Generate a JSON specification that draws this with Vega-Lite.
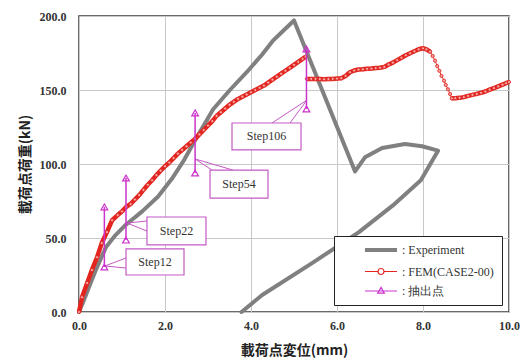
{
  "$schema": "https://vega.github.io/schema/vega-lite/v6.json",
  "width": 430,
  "height": 296,
  "autosize": {"type": "none"},
  "padding": {"left": 79, "top": 16, "right": 15, "bottom": 49},
  "config": {
    "view": {"stroke": "#3a3a3a", "strokeWidth": 1.5},
    "axis": {
      "gridColor": "#c8c8c8", "gridWidth": 1, "domain": false, "ticks": false, "labelFlush": false,
      "labelFont": "Liberation Serif", "labelFontSize": 12, "labelFontWeight": "bold", "labelColor": "#333333",
      "titleFont": "Noto Sans CJK JP", "titleFontSize": 14, "titleFontWeight": "bold", "titleColor": "#222222"
    }
  },
  "datasets": {
    "exp": [
      {"i": 0, "x": 0, "y": 0}, {"i": 1, "x": 0.1, "y": 7}, {"i": 2, "x": 0.25, "y": 18}, {"i": 3, "x": 0.4, "y": 29},
      {"i": 4, "x": 0.63, "y": 44}, {"i": 5, "x": 0.85, "y": 52}, {"i": 6, "x": 1.09, "y": 59}, {"i": 7, "x": 1.47, "y": 68},
      {"i": 8, "x": 1.84, "y": 78}, {"i": 9, "x": 2.16, "y": 90}, {"i": 10, "x": 2.45, "y": 103}, {"i": 11, "x": 2.7, "y": 116},
      {"i": 12, "x": 3.12, "y": 137}, {"i": 13, "x": 3.51, "y": 150}, {"i": 14, "x": 3.9, "y": 162}, {"i": 15, "x": 4.26, "y": 174},
      {"i": 16, "x": 4.5, "y": 183}, {"i": 17, "x": 4.75, "y": 190}, {"i": 18, "x": 5.0, "y": 197}, {"i": 19, "x": 6.42, "y": 95},
      {"i": 20, "x": 6.65, "y": 104.5}, {"i": 21, "x": 7.05, "y": 110.8}, {"i": 22, "x": 7.58, "y": 113.5}, {"i": 23, "x": 7.98, "y": 112},
      {"i": 24, "x": 8.35, "y": 109}, {"i": 25, "x": 7.95, "y": 89}, {"i": 26, "x": 7.3, "y": 72}, {"i": 27, "x": 6.51, "y": 54},
      {"i": 28, "x": 5.42, "y": 33}, {"i": 29, "x": 4.26, "y": 11.5}, {"i": 30, "x": 3.78, "y": 0}
    ],
    "fem": [
      {"part": "a", "x": 0, "y": 0}, {"part": "a", "x": 0.07, "y": 10}, {"part": "a", "x": 0.19, "y": 19.6}, {"part": "a", "x": 0.3, "y": 28.4},
      {"part": "a", "x": 0.42, "y": 37}, {"part": "a", "x": 0.53, "y": 46.6}, {"part": "a", "x": 0.65, "y": 54}, {"part": "a", "x": 0.77, "y": 62},
      {"part": "a", "x": 0.9, "y": 65.5}, {"part": "a", "x": 1.0, "y": 68}, {"part": "a", "x": 1.1, "y": 71}, {"part": "a", "x": 1.2, "y": 73},
      {"part": "a", "x": 1.3, "y": 76}, {"part": "a", "x": 1.4, "y": 79}, {"part": "a", "x": 1.5, "y": 82.5}, {"part": "a", "x": 1.6, "y": 86},
      {"part": "a", "x": 1.7, "y": 89}, {"part": "a", "x": 1.8, "y": 92.5}, {"part": "a", "x": 1.9, "y": 95.5}, {"part": "a", "x": 2.0, "y": 98.5},
      {"part": "a", "x": 2.1, "y": 101}, {"part": "a", "x": 2.2, "y": 104}, {"part": "a", "x": 2.3, "y": 107}, {"part": "a", "x": 2.4, "y": 109.5},
      {"part": "a", "x": 2.5, "y": 112}, {"part": "a", "x": 2.6, "y": 114.5}, {"part": "a", "x": 2.7, "y": 117}, {"part": "a", "x": 2.8, "y": 120},
      {"part": "a", "x": 2.9, "y": 123}, {"part": "a", "x": 3.0, "y": 126}, {"part": "a", "x": 3.1, "y": 129}, {"part": "a", "x": 3.2, "y": 132.5},
      {"part": "a", "x": 3.3, "y": 135}, {"part": "a", "x": 3.4, "y": 137.5}, {"part": "a", "x": 3.5, "y": 140}, {"part": "a", "x": 3.6, "y": 142},
      {"part": "a", "x": 3.7, "y": 144}, {"part": "a", "x": 3.8, "y": 145.5}, {"part": "a", "x": 3.9, "y": 147}, {"part": "a", "x": 4.0, "y": 148.5},
      {"part": "a", "x": 4.1, "y": 150}, {"part": "a", "x": 4.2, "y": 151.5}, {"part": "a", "x": 4.3, "y": 153}, {"part": "a", "x": 4.4, "y": 155},
      {"part": "a", "x": 4.5, "y": 157}, {"part": "a", "x": 4.6, "y": 159}, {"part": "a", "x": 4.7, "y": 161}, {"part": "a", "x": 4.8, "y": 163},
      {"part": "a", "x": 4.9, "y": 165}, {"part": "a", "x": 5.0, "y": 167}, {"part": "a", "x": 5.1, "y": 169}, {"part": "a", "x": 5.2, "y": 171},
      {"part": "a", "x": 5.27, "y": 172.5},
      {"part": "b", "x": 5.3, "y": 157.5}, {"part": "b", "x": 5.4, "y": 157.5}, {"part": "b", "x": 5.5, "y": 157.5}, {"part": "b", "x": 5.6, "y": 157.4},
      {"part": "b", "x": 5.7, "y": 157.3}, {"part": "b", "x": 5.8, "y": 157.4}, {"part": "b", "x": 5.9, "y": 157.5}, {"part": "b", "x": 6.0, "y": 157.7},
      {"part": "b", "x": 6.1, "y": 158}, {"part": "b", "x": 6.2, "y": 159.5}, {"part": "b", "x": 6.3, "y": 162}, {"part": "b", "x": 6.4, "y": 163.2},
      {"part": "b", "x": 6.5, "y": 163.8}, {"part": "b", "x": 6.6, "y": 164}, {"part": "b", "x": 6.7, "y": 164.3}, {"part": "b", "x": 6.8, "y": 164.5},
      {"part": "b", "x": 6.9, "y": 164.8}, {"part": "b", "x": 7.0, "y": 165}, {"part": "b", "x": 7.1, "y": 165.6}, {"part": "b", "x": 7.2, "y": 167.2},
      {"part": "b", "x": 7.3, "y": 168.5}, {"part": "b", "x": 7.4, "y": 170.2}, {"part": "b", "x": 7.5, "y": 171.8}, {"part": "b", "x": 7.6, "y": 173.5},
      {"part": "b", "x": 7.7, "y": 174.8}, {"part": "b", "x": 7.8, "y": 176.2}, {"part": "b", "x": 7.9, "y": 177.5}, {"part": "b", "x": 8.0, "y": 178.2},
      {"part": "b", "x": 8.08, "y": 177.5}, {"part": "b", "x": 8.163, "y": 175.9},
      {"part": "drop", "x": 8.163, "y": 175.9}, {"part": "drop", "x": 8.225, "y": 173}, {"part": "drop", "x": 8.28, "y": 169.8},
      {"part": "drop", "x": 8.33, "y": 166.2}, {"part": "drop", "x": 8.38, "y": 163}, {"part": "drop", "x": 8.43, "y": 159.5},
      {"part": "drop", "x": 8.49, "y": 156.3}, {"part": "drop", "x": 8.53, "y": 153.4}, {"part": "drop", "x": 8.58, "y": 150.5},
      {"part": "drop", "x": 8.63, "y": 147.3}, {"part": "drop", "x": 8.67, "y": 144.4},
      {"part": "d", "x": 8.67, "y": 144.4}, {"part": "d", "x": 8.75, "y": 144.5}, {"part": "d", "x": 8.85, "y": 144.7}, {"part": "d", "x": 8.95, "y": 145.2},
      {"part": "d", "x": 9.05, "y": 146}, {"part": "d", "x": 9.15, "y": 146.7}, {"part": "d", "x": 9.25, "y": 147.4}, {"part": "d", "x": 9.35, "y": 148.1},
      {"part": "d", "x": 9.45, "y": 149}, {"part": "d", "x": 9.55, "y": 150.2}, {"part": "d", "x": 9.65, "y": 151.3}, {"part": "d", "x": 9.75, "y": 152.4},
      {"part": "d", "x": 9.85, "y": 153.6}, {"part": "d", "x": 9.93, "y": 154.6}, {"part": "d", "x": 10, "y": 155.4}
    ],
    "steps": [
      {"step": "Step12", "x": 0.59, "y": 30.4}, {"step": "Step12", "x": 0.59, "y": 71},
      {"step": "Step22", "x": 1.093, "y": 48.6}, {"step": "Step22", "x": 1.093, "y": 90.5},
      {"step": "Step54", "x": 2.7, "y": 93.9}, {"step": "Step54", "x": 2.7, "y": 134.5},
      {"step": "Step106", "x": 5.29, "y": 137.2}, {"step": "Step106", "x": 5.29, "y": 177.7}
    ],
    "callouts": [
      {"step": "Step12", "bx1": 1.093, "bx2": 2.442, "by1": 25.0, "by2": 42.6, "tx": 1.767, "ty": 33.8},
      {"step": "Step22", "bx1": 1.581, "bx2": 2.953, "by1": 45.3, "by2": 64.2, "tx": 2.267, "ty": 54.7},
      {"step": "Step54", "bx1": 3.047, "bx2": 4.395, "by1": 77.0, "by2": 95.9, "tx": 3.721, "ty": 86.5},
      {"step": "Step106", "bx1": 3.558, "bx2": 5.163, "by1": 109.5, "by2": 127.7, "tx": 4.36, "ty": 118.6}
    ],
    "wedges": [
      {"x": 0.605, "y": 31.1, "x2": 1.093, "y2": 36.5}, {"x": 0.605, "y": 31.1, "x2": 1.093, "y2": 29.7},
      {"x": 1.116, "y": 60.1, "x2": 1.581, "y2": 61.5}, {"x": 1.116, "y": 60.1, "x2": 1.581, "y2": 54.7},
      {"x": 2.698, "y": 103.4, "x2": 3.093, "y2": 95.9}, {"x": 2.698, "y": 103.4, "x2": 3.581, "y2": 95.9},
      {"x": 5.302, "y": 143.2, "x2": 4.488, "y2": 127.7}, {"x": 5.302, "y": 143.2, "x2": 4.907, "y2": 127.7}
    ]
  },
  "layer": [
    {
      "data": {"name": "exp"},
      "mark": {"type": "line", "strokeWidth": 4, "strokeJoin": "round", "strokeCap": "round"},
      "encoding": {
        "x": {"field": "x", "type": "quantitative", "scale": {"domain": [0, 10], "nice": false},
          "axis": {"values": [0, 2, 4, 6, 8, 10], "format": ".1f", "title": "載荷点変位(mm)", "labelPadding": 8, "titlePadding": 12}},
        "y": {"field": "y", "type": "quantitative", "scale": {"domain": [0, 200], "nice": false},
          "axis": {"values": [0, 50, 100, 150, 200], "format": ".1f", "title": "載荷点荷重(kN)", "labelPadding": 13, "titlePadding": 7}},
        "order": {"field": "i", "type": "quantitative"},
        "color": {"datum": "Experiment", "type": "nominal",
          "scale": {"domain": ["Experiment", "FEM(CASE2-00)", "抽出点"], "range": ["#808080", "#e3241f", "#cc33cc"]},
          "legend": {
            "title": null, "orient": "bottom-right", "offset": 7,
            "strokeColor": "#222222", "fillColor": "white", "padding": 8,
            "symbolSize": 144, "symbolOffset": 33, "labelOffset": 15, "rowPadding": 7.5,
            "labelFont": "Liberation Serif", "labelFontSize": 12, "labelColor": "#333333",
            "labelExpr": "': ' + datum.label",
            "encode": {"symbols": {"update": {
              "shape": {"signal": "datum.value === 'Experiment' ? 'M-2.67,0H2.67' : datum.value === 'FEM(CASE2-00)' ? 'M-2.67,0H-0.5M0.5,0H2.67M-0.5,0A0.5,0.5,0,1,0,0.5,0A0.5,0.5,0,1,0,-0.5,0' : 'M-2.67,0H2.67M0,-0.6L0.55,0.35L-0.55,0.35Z'"},
              "strokeWidth": {"signal": "datum.value === 'Experiment' ? 4 : 1.2"},
              "stroke": {"signal": "scale('color', datum.value)"},
              "fill": {"value": "white"},
              "opacity": {"value": 1}
            }}}
          }}
      }
    },
    {
      "data": {"name": "fem"},
      "transform": [{"filter": "datum.part !== 'drop'"}],
      "mark": {"type": "line", "strokeWidth": 4.5, "strokeJoin": "round"},
      "encoding": {
        "x": {"field": "x", "type": "quantitative"},
        "y": {"field": "y", "type": "quantitative"},
        "detail": {"field": "part"},
        "color": {"datum": "FEM(CASE2-00)", "type": "nominal"}
      }
    },
    {
      "data": {"name": "fem"},
      "transform": [{"filter": "datum.part === 'drop'"}],
      "mark": {"type": "line", "strokeWidth": 1},
      "encoding": {
        "x": {"field": "x", "type": "quantitative"},
        "y": {"field": "y", "type": "quantitative"},
        "color": {"datum": "FEM(CASE2-00)", "type": "nominal"}
      }
    },
    {
      "data": {"name": "fem"},
      "mark": {"type": "point", "shape": "circle", "size": 10, "filled": true, "fill": "#f7a8a8", "stroke": "#dd2a22", "strokeWidth": 0.9, "opacity": 1},
      "encoding": {
        "x": {"field": "x", "type": "quantitative"},
        "y": {"field": "y", "type": "quantitative"}
      }
    },
    {
      "data": {"name": "wedges"},
      "mark": {"type": "rule", "color": "#c45ac4", "strokeWidth": 1},
      "encoding": {
        "x": {"field": "x", "type": "quantitative"},
        "y": {"field": "y", "type": "quantitative"},
        "x2": {"field": "x2"},
        "y2": {"field": "y2"}
      }
    },
    {
      "data": {"name": "steps"},
      "mark": {"type": "line", "strokeWidth": 1.5, "point": {"shape": "triangle-up", "filled": false, "size": 45, "strokeWidth": 1.2}},
      "encoding": {
        "x": {"field": "x", "type": "quantitative"},
        "y": {"field": "y", "type": "quantitative"},
        "detail": {"field": "step"},
        "color": {"datum": "抽出点", "type": "nominal"}
      }
    },
    {
      "data": {"name": "callouts"},
      "mark": {"type": "rect", "fill": "white", "stroke": "#c45ac4", "strokeWidth": 1.2},
      "encoding": {
        "x": {"field": "bx1", "type": "quantitative"},
        "x2": {"field": "bx2"},
        "y": {"field": "by1", "type": "quantitative"},
        "y2": {"field": "by2"}
      }
    },
    {
      "data": {"name": "callouts"},
      "mark": {"type": "text", "font": "Liberation Serif", "fontSize": 12, "color": "#333333", "align": "center", "baseline": "middle"},
      "encoding": {
        "x": {"field": "tx", "type": "quantitative"},
        "y": {"field": "ty", "type": "quantitative"},
        "text": {"field": "step"}
      }
    }
  ]
}
